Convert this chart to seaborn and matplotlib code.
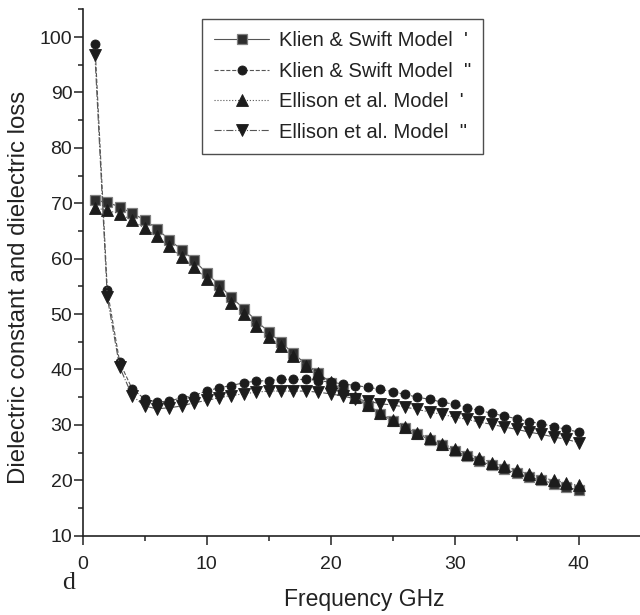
import matplotlib
matplotlib.use("Agg")
import matplotlib.pyplot as plt
import numpy as np
import pandas as pd
import seaborn as sns
from matplotlib.lines import Line2D
from matplotlib.ticker import FixedLocator

freq = list(range(1, 41))
klien_real = [70.5, 70.2, 69.3, 68.2, 67.0, 65.4, 63.4, 61.6, 59.7, 57.4,
              55.3, 53.0, 51.0, 48.8, 46.8, 44.9, 42.9, 41.0, 39.4, 37.6,
              36.3, 34.8, 33.4, 32.0, 30.7, 29.5, 28.4, 27.3, 26.3, 25.3,
              24.4, 23.5, 22.7, 22.0, 21.3, 20.6, 20.0, 19.4, 18.8, 18.2]
klien_imag = [98.8, 54.3, 41.3, 36.5, 34.7, 34.1, 34.3, 34.9, 35.3, 36.1,
              36.7, 37.1, 37.6, 37.9, 38.0, 38.2, 38.2, 38.2, 38.0, 37.7,
              37.4, 37.1, 36.8, 36.4, 36.0, 35.5, 35.0, 34.6, 34.1, 33.7,
              33.1, 32.6, 32.1, 31.6, 31.1, 30.6, 30.2, 29.7, 29.2, 28.7]
ellison_real = [69.2, 68.7, 68.1, 66.9, 65.5, 64.0, 62.2, 60.3, 58.5, 56.3,
                54.3, 52.0, 50.1, 47.8, 45.9, 44.3, 42.5, 40.7, 39.3, 37.7,
                36.4, 35.0, 33.6, 32.2, 30.9, 29.7, 28.6, 27.6, 26.6, 25.7,
                24.8, 24.0, 23.2, 22.5, 21.8, 21.1, 20.5, 20.0, 19.5, 19.1]
ellison_imag = [96.8, 53.0, 40.4, 35.3, 33.4, 32.9, 33.1, 33.4, 34.0, 34.4,
                34.9, 35.3, 35.6, 35.9, 36.1, 36.1, 36.1, 36.1, 35.9, 35.6,
                35.2, 34.7, 34.3, 33.8, 33.6, 33.2, 32.8, 32.3, 31.9, 31.4,
                31.0, 30.5, 30.1, 29.6, 29.2, 28.7, 28.3, 27.8, 27.4, 26.8]

series_labels = ["Klien & Swift Model  '", 'Klien & Swift Model  "',
                 "Ellison et al. Model  '", 'Ellison et al. Model  "']
x_ticks = [0, 10, 20, 30, 40]
y_ticks = [10, 20, 30, 40, 50, 60, 70, 80, 90, 100]
x_label = "Frequency GHz"
y_label = "Dielectric constant and dielectric loss"
panel_label = "d"

df = pd.DataFrame({
    "freq": freq * 4,
    "value": klien_real + klien_imag + ellison_real + ellison_imag,
    "series": sum([[lab] * len(freq) for lab in series_labels], []),
})

sns.set_theme(style="ticks")
plt.rcParams["font.family"] = ["Liberation Sans", "DejaVu Sans"]

W, H = 640, 615
fig = plt.figure(figsize=(W / 100, H / 100), dpi=100)
x0, x1, ytop, ybot = 82.5, 640.7, 9.3, 535.7
ax = fig.add_axes([x0 / W, 1 - ybot / H, (x1 - x0) / W, (ybot - ytop) / H])

styles = [
    dict(marker="s", linestyle="-", markersize=6.5, mfc="#2e2e2e", mec="#808080", mew=0.9),
    dict(marker="o", linestyle="--", markersize=6.5, mfc="#1c1c1c", mec="#1c1c1c", mew=0.6),
    dict(marker="^", linestyle=":", markersize=8.5, mfc="#1c1c1c", mec="#1c1c1c", mew=0.6),
    dict(marker="v", linestyle="-.", markersize=8.5, mfc="#1c1c1c", mec="#1c1c1c", mew=0.6),
]
line_color = "#555555"

handles = []
for lab, st in zip(series_labels, styles):
    sub = df[df["series"] == lab]
    sns.lineplot(data=sub, x="freq", y="value", ax=ax, color=line_color,
                 linewidth=0.8, linestyle=st["linestyle"], marker=st["marker"],
                 markersize=st["markersize"], markerfacecolor=st["mfc"],
                 markeredgecolor=st["mec"], markeredgewidth=st["mew"],
                 legend=False, errorbar=None)
    handles.append(Line2D([], [], color=line_color, linewidth=0.8,
                          linestyle=st["linestyle"], marker=st["marker"],
                          markersize=st["markersize"], markerfacecolor=st["mfc"],
                          markeredgecolor=st["mec"], markeredgewidth=st["mew"]))

ax.set_xlim(0, 45)
ax.set_ylim(10, 105)
ax.xaxis.set_major_locator(FixedLocator(x_ticks))
ax.xaxis.set_minor_locator(FixedLocator([5, 15, 25, 35]))
ax.yaxis.set_major_locator(FixedLocator(y_ticks))
ax.yaxis.set_minor_locator(FixedLocator([15, 25, 35, 45, 55, 65, 75, 85, 95, 105]))
ax.set_xlabel("")
ax.set_ylabel("")

for side in ["top", "right"]:
    ax.spines[side].set_visible(False)
for side in ["left", "bottom"]:
    ax.spines[side].set_color("#222222")
    ax.spines[side].set_linewidth(1.2)

ax.tick_params(axis="both", which="major", direction="out", length=6.3, width=1.1,
               color="#222222", labelsize=14, labelcolor="#222222")
ax.tick_params(axis="both", which="minor", direction="out", length=3.8, width=1.1,
               color="#222222")
ax.tick_params(axis="x", which="major", pad=8)
ax.tick_params(axis="y", which="major", pad=1)

leg = ax.legend(handles, series_labels, loc="upper left",
                bbox_to_anchor=((202 - x0) / (x1 - x0), (ybot - 19) / (ybot - ytop)),
                prop={"size": 14.5}, frameon=True, fancybox=False, shadow=False,
                handlelength=2.75, handletextpad=0.45, labelspacing=0.57,
                borderpad=0.6, borderaxespad=0, numpoints=1)
leg.get_frame().set_edgecolor("#222222")
leg.get_frame().set_linewidth(1.0)
for t in leg.get_texts():
    t.set_color("#222222")

fig.text(25 / W, 1 - 287.5 / H, y_label, rotation=90, rotation_mode="anchor",
         ha="center", va="baseline", fontsize=17.3, color="#222222")
fig.text(364 / W, 1 - 605.7 / H, x_label, ha="center", va="baseline",
         fontsize=16.5, color="#222222")
fig.text(68.5 / W, 1 - 589 / H, panel_label, ha="center", va="baseline",
         fontsize=18.5, color="#222222", family=["Liberation Serif", "DejaVu Serif"])

fig.savefig("out.png", dpi=100)
